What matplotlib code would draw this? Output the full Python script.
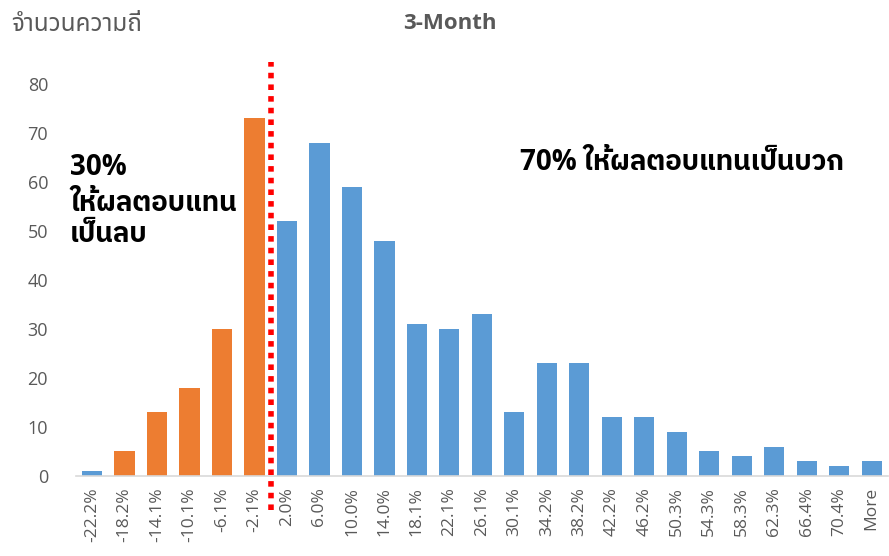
import matplotlib
matplotlib.use("Agg")
import matplotlib.pyplot as plt
import matplotlib.transforms as mtransforms

plt.rcParams['font.family'] = ['Open Sans', 'Noto Sans Thai', 'DejaVu Sans']
bold_fam = ['Open Sans', 'IBM Plex Sans Thai', 'DejaVu Sans']

# data
bins = ['-22.2%', '-18.2%', '-14.1%', '-10.1%', '-6.1%', '-2.1%', '2.0%', '6.0%',
        '10.0%', '14.0%', '18.1%', '22.1%', '26.1%', '30.1%', '34.2%', '38.2%',
        '42.2%', '46.2%', '50.3%', '54.3%', '58.3%', '62.3%', '66.4%', '70.4%', 'More']
freq = [1, 5, 13, 18, 30, 73, 52, 68, 59, 48, 31, 30, 33, 13, 23, 23,
        12, 12, 9, 5, 4, 6, 3, 2, 3]
neg_bins = ['-18.2%', '-14.1%', '-10.1%', '-6.1%', '-2.1%']   # highlighted in orange

blue = '#5B9BD5'
orange = '#ED7D31'
grey = '#595959'
colors = [orange if b in neg_bins else blue for b in bins]

fig = plt.figure(figsize=(8.89, 5.56), dpi=100)
ax = fig.add_axes([0.0853, 0.1439, 0.9135, 0.7051])

x = list(range(len(bins)))
ax.bar(x, freq, width=0.62, color=colors, zorder=2)
ax.set_xlim(-0.5, len(bins) - 0.5)
ax.set_ylim(0, 80)
ax.set_yticks(range(0, 81, 10))
ax.set_xticks(x)
ax.set_xticklabels(bins, rotation=90, fontsize=12.5, color=grey)
ax.tick_params(axis='y', labelsize=13, colors=grey, length=0, pad=20)
ax.tick_params(axis='x', length=0, pad=8)
for s in ['top', 'right', 'left']:
    ax.spines[s].set_visible(False)
ax.spines['bottom'].set_color('#D9D9D9')
ax.spines['bottom'].set_linewidth(1.2)

# dotted divider between negative and positive returns
split = bins.index('2.0%') - 0.5
trans = mtransforms.blended_transform_factory(ax.transData, ax.transAxes)
ax.plot([split, split], [-0.088, 1.056], transform=trans, color='#FF0000',
        linestyle=(0, (1, 1.1)), linewidth=4, clip_on=False, zorder=3)

fig.text(0.506, 0.958, '3-Month', ha='center', va='center', fontsize=16,
         fontweight='bold', color=grey)
fig.text(0.013, 0.955, 'จำนวนความถี่', ha='left', va='center', fontsize=17.5,
         color=grey)

lbl = mtransforms.blended_transform_factory(fig.transFigure, ax.transData)
ax.text(0.079, 63.0, '30%', fontsize=20, fontweight='bold', color='black',
        ha='left', va='center', transform=lbl, family=bold_fam)
ax.text(0.079, 55.7, 'ให้ผลตอบแทน', fontsize=20, fontweight='bold', color='black',
        ha='left', va='center', transform=lbl, family=bold_fam)
ax.text(0.079, 49.2, 'เป็นลบ', fontsize=20, fontweight='bold', color='black',
        ha='left', va='center', transform=lbl, family=bold_fam)
ax.text(0.585, 64.0, '70% ให้ผลตอบแทนเป็นบวก', fontsize=20, fontweight='bold',
        color='black', ha='left', va='center', transform=lbl, family=bold_fam)

fig.savefig('out.png', dpi=100)
